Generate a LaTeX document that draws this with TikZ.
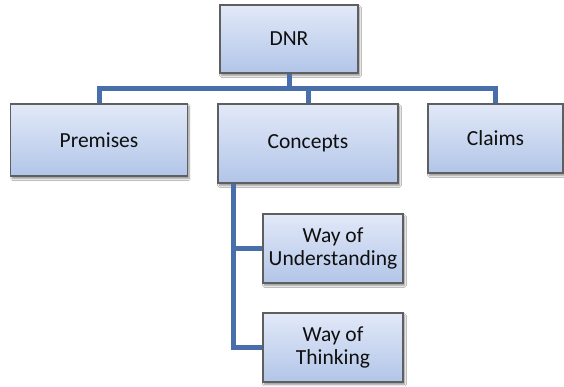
\documentclass[tikz,border=0pt]{standalone}
\usepackage{fontspec}
\setmainfont{Carlito}
\usetikzlibrary{shadows.blur}
\definecolor{boxtop}{RGB}{226,233,248}
\definecolor{boxbot}{RGB}{178,197,232}
\definecolor{boxedge}{RGB}{95,95,95}
\definecolor{linkblue}{RGB}{72,111,170}
\definecolor{txt}{RGB}{15,15,15}
\tikzset{
  box/.style={draw=boxedge, line width=1.3pt, top color=boxtop, bottom color=boxbot,
    blur shadow={shadow xshift=1.5pt, shadow yshift=-2.5pt, shadow blur steps=6, shadow opacity=45},
    text=txt, align=center, inner sep=0pt,
    font=\fontsize{21.5}{23.5}\selectfont},
  conn/.style={draw=linkblue, line width=5pt}
}
\begin{document}
\begin{tikzpicture}[x=1pt, y=-1pt]
\useasboundingbox (0,0) rectangle (564,386);
\fill[white] (0,0) rectangle (564,386);

% guide lines for the connectors
\coordinate (bus) at (0,88);
\coordinate (trunk) at (233,0);

% boxes
\node[box, minimum width=138pt, minimum height=68pt] (dnr) at (289,39) {DNR};
\node[box, minimum width=177pt, minimum height=72pt] (prem) at (99,140) {Premises};
\node[box, minimum width=180pt, minimum height=79pt] (conc) at (308,143.5) {Concepts};
\node[box, minimum width=135pt, minimum height=69pt] (claim) at (495.5,138.5) {Claims};
\node[box, minimum width=140pt, minimum height=69pt] (wou) at (333,248.5) {Way of\\Understanding};
\node[box, minimum width=140pt, minimum height=69pt] (wot) at (333,347.5) {Way of\\Thinking};

% tree connectors
\draw[conn] (prem.north) |- (claim.north |- bus) -- (claim.north);
\draw[conn] (dnr.south) -- (dnr.south |- bus);
\draw[conn] (conc.north) -- (conc.north |- bus);
\draw[conn] (conc.south -| trunk) |- (wot.west);
\draw[conn] (trunk |- wou.west) -- (wou.west);
\end{tikzpicture}
\end{document}
